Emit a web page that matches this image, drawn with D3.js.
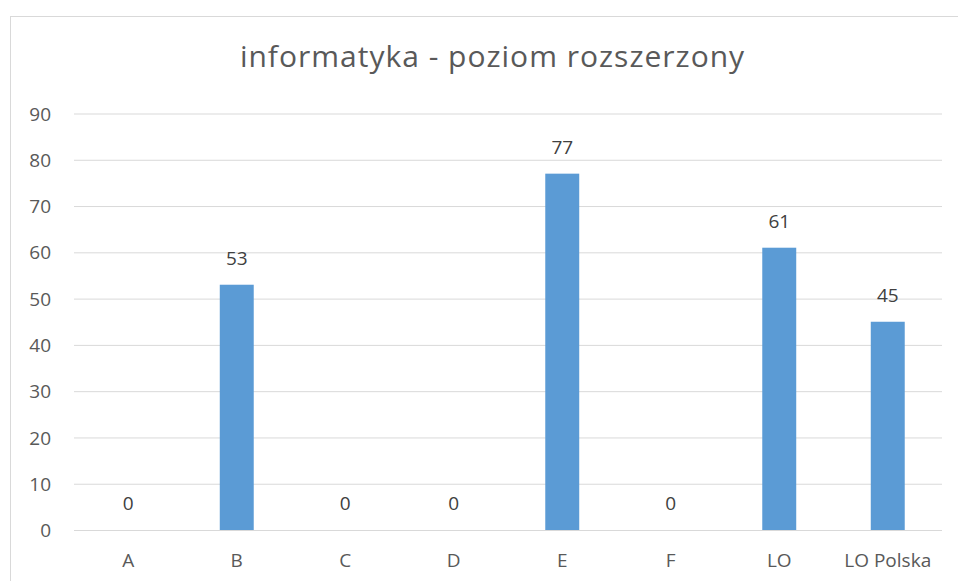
<!DOCTYPE html>
<html lang="pl">
<head>
  <meta charset="UTF-8">
  <title>informatyka - poziom rozszerzony</title>
  <script src="https://d3js.org/d3.v7.min.js"></script>
  <style>
    body { margin: 0; background: #fff; }
    svg text { font-family: "Open Sans", sans-serif; }
    svg { display: block; }
    .tick text { fill: #595959; font-size: 19px; }
    .grid line { stroke: #d9d9d9; stroke-width: 1px; }
    .title { fill: #595959; font-size: 30px; text-anchor: middle; letter-spacing: 1px; }
    .value-label { fill: #404040; font-size: 19px; text-anchor: middle; }
  </style>
</head>
<body>
  <svg id="chart" width="958" height="581"></svg>
  <script>
    const categories = ["A", "B", "C", "D", "E", "F", "LO", "LO Polska"];
    const values = [0, 53, 0, 0, 77, 0, 61, 45];
    const yTicks = [0, 10, 20, 30, 40, 50, 60, 70, 80, 90];
    const chartTitle = "informatyka - poziom rozszerzony";

    const plotLeft = 74, plotRight = 942, plotTop = 113.5, plotBottom = 530;

    const svg = d3.select("#chart");

    // chart frame (cut off at right and bottom like the screenshot)
    svg.append("rect")
      .attr("x", 10.5).attr("y", 16.5)
      .attr("width", 1000).attr("height", 1000)
      .attr("fill", "#fff")
      .attr("stroke", "#d9d9d9");

    svg.append("text")
      .attr("class", "title")
      .attr("x", 492.5).attr("y", 67)
      .text(chartTitle);

    const x = d3.scaleBand()
      .domain(categories)
      .range([plotLeft, plotRight])
      .paddingInner(0.687)
      .paddingOuter(0.3435);

    const y = d3.scaleLinear()
      .domain([0, 90])
      .range([plotBottom, plotTop]);

    // gridlines + y tick labels
    const yAxis = svg.append("g")
      .attr("class", "grid")
      .attr("transform", `translate(${plotLeft},0)`)
      .call(d3.axisLeft(y).tickValues(yTicks).tickSizeInner(-(plotRight - plotLeft)).tickSizeOuter(0).tickPadding(23));
    yAxis.select(".domain").remove();
    yAxis.selectAll(".tick text").attr("dy", "0.35em");

    // x labels
    const xAxis = svg.append("g")
      .attr("transform", `translate(0,${plotBottom})`)
      .call(d3.axisBottom(x).tickSize(0));
    xAxis.select(".domain").remove();
    xAxis.selectAll(".tick text").attr("y", 37).attr("dy", 0);

    const data = categories.map((c, i) => ({ cat: c, val: values[i] }));

    svg.append("g").selectAll("rect")
      .data(data)
      .join("rect")
      .attr("x", d => x(d.cat))
      .attr("y", d => y(d.val))
      .attr("width", x.bandwidth())
      .attr("height", d => y(0) - y(d.val))
      .attr("fill", "#5b9bd5");

    svg.append("g").selectAll("text")
      .data(data)
      .join("text")
      .attr("class", "value-label")
      .attr("x", d => x(d.cat) + x.bandwidth() / 2)
      .attr("y", d => y(d.val) - 20)
      .text(d => d.val);
  </script>
</body>
</html>
